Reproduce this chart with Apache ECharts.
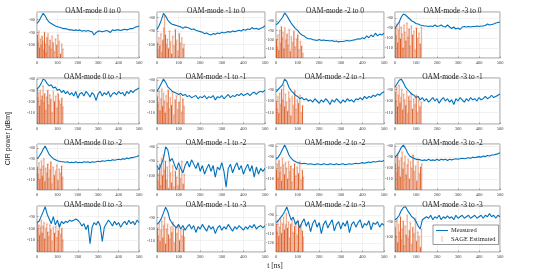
<!DOCTYPE html>
<html><head><meta charset="utf-8">
<script src="https://cdn.jsdelivr.net/npm/echarts@6/dist/echarts.min.js"></script>
<style>html,body{margin:0;padding:0;background:#fff}#c{width:540px;height:270px}</style>
</head><body><div id="c"></div>
<script>
const T = [0,10,20,30,40,50,60,70,80,90,100,110,120,130,140,150,160,170,180,190,200,210,220,230,240,250,260,270,280,290,300,310,320,330,340,350,360,370,380,390,400,410,420,430,440,450,460,470,480,490,500];
const xTicks = [0,100,200,300,400,500];
const srcModes = ['0','-1','-2','-3'];
const dstModes = ['0','-1','-2','-3'];

// measured CIR (dBm), rows = destination mode, cols = source mode
const M00 = [-83,-81,-78,-75,-77,-80,-82,-83,-84,-85,-85.5,-86,-86.5,-87,-87,-87.5,-88,-88,-88.5,-88,-88.5,-88,-89,-88.5,-89,-88.5,-89,-89.5,-92,-90,-89,-89,-89.5,-89,-88.5,-89,-90,-88,-88.5,-88,-88,-88.5,-88,-87.5,-88,-87.5,-87,-87,-86,-85.5,-85];
const M01 = [-89,-86,-82,-77,-79,-82,-84,-85,-85.5,-86,-86.5,-87,-88,-87,-87.5,-88,-89,-88.5,-89.5,-90,-90.5,-91,-92,-91.5,-92.5,-93,-92,-92.5,-91.5,-92,-91,-91.5,-91,-90.5,-91,-90,-90.5,-90,-89.5,-90,-89,-89.5,-88.5,-89,-87.5,-88.5,-88,-89,-88,-87.5,-86];
const M02 = [-84,-82,-79,-76,-71,-74,-78,-82,-85,-88,-90,-93,-95,-96,-98,-99,-99,-100,-100.5,-101,-100,-101,-100.5,-101,-101,-101.5,-101,-102,-101.5,-102.5,-102,-102,-101.5,-101,-101.5,-101,-100.5,-100,-99,-99.5,-98,-99,-96,-98,-95,-97,-93,-96,-94,-95,-93];
const M03 = [-90,-87,-84,-79,-76,-77,-79,-81,-83,-84,-85.5,-86,-87,-87.5,-88,-88,-88.5,-88,-88.5,-87,-88.5,-88,-87,-88.5,-89,-87,-89,-90.5,-89,-91,-90,-91.5,-89,-88.5,-89,-88.5,-89,-88.5,-88.5,-88,-88.5,-88,-88,-87.5,-86,-87,-86.5,-86,-85,-84.5,-84];
const M10 = [-89,-87,-84,-80,-81,-84,-86,-85,-88,-87,-90,-89,-92,-90,-93,-91,-94,-92,-95,-91,-97,-93,-92,-95,-91,-93,-96,-92,-94,-99,-93,-91,-95,-92,-94,-91,-96,-93,-92,-94,-91,-93,-92,-95,-91,-93,-90,-92,-90,-89,-88];
const M11 = [-90,-87,-83,-79,-82,-86,-88,-90,-91,-92,-93,-92,-94,-93,-95,-94,-96,-95,-94,-97,-95,-96,-94,-97,-95,-96,-94,-98,-95,-96,-94,-97,-95,-93,-96,-94,-95,-93,-94,-92,-94,-93,-92,-94,-92,-91,-93,-91,-90,-91,-89];
const M12 = [-92,-90,-88,-86,-81,-83,-88,-91,-93,-95,-96,-98,-97,-99,-98,-100,-99,-101,-98,-100,-102,-99,-101,-98,-100,-103,-99,-101,-98,-100,-102,-99,-101,-98,-100,-99,-101,-98,-99,-97,-99,-96,-98,-96,-97,-95,-96,-94,-95,-93,-92];
const M13 = [-88,-85,-82,-81,-84,-88,-90,-92,-94,-95,-97,-96,-99,-97,-100,-98,-101,-99,-97,-100,-98,-102,-99,-97,-100,-98,-101,-99,-103,-98,-100,-97,-99,-101,-98,-100,-97,-99,-98,-100,-97,-99,-98,-96,-98,-97,-95,-97,-96,-95,-94];
const M20 = [-90,-88,-85,-81,-78,-82,-86,-88,-90,-91,-92,-92.5,-93,-93,-93.5,-93,-94,-93.5,-94,-93,-94,-93.5,-94,-93,-93.5,-93,-94,-93,-93.5,-93,-92.5,-93,-92,-92.5,-92,-91.5,-92,-91,-91.5,-91,-90.5,-91,-90,-90.5,-89.5,-90,-89,-89,-88.5,-88,-87];
const M21 = [-93,-96,-92,-88,-80,-82,-90,-88,-92,-96,-91,-95,-98,-93,-90,-94,-89,-92,-95,-91,-97,-93,-99,-95,-92,-97,-93,-101,-94,-96,-91,-97,-108,-95,-92,-98,-94,-91,-96,-93,-99,-95,-92,-97,-93,-101,-94,-99,-95,-97,-95];
const M22 = [-92,-90,-87,-83,-79,-83,-88,-91,-93,-94,-95,-95.5,-96,-95.5,-96,-96.5,-96,-96.5,-97,-96,-96.5,-97,-96,-96.5,-97,-96,-96.5,-97,-96,-97,-96.5,-96,-97,-96.5,-96,-96.5,-96,-95.5,-96,-95.5,-95,-95.5,-95,-94.5,-95,-94,-94.5,-94,-93.5,-94,-93];
const M23 = [-90,-88,-85,-81,-79,-82,-86,-89,-90,-91,-92,-92,-92.5,-93,-92.5,-93,-92,-93,-92.5,-93,-92,-93,-92,-92.5,-92,-93,-92,-92.5,-92,-91.5,-92,-91.5,-91,-91.5,-91,-90.5,-91,-90,-90.5,-90,-89.5,-90,-89,-89.5,-88.5,-89,-88,-88,-87.5,-87,-86];
const M30 = [-95,-94,-90,-86,-81.5,-88,-92,-96,-90,-97,-93,-99,-94,-96,-94,-95,-93,-94,-93,-92,-93,-95,-98,-96,-101,-97,-113,-99,-95,-97,-94,-98,-111,-99,-96,-93,-95,-98,-94,-97,-95,-99,-96,-94,-97,-93,-96,-94,-97,-93,-95];
const M31 = [-96,-94,-91,-86,-81,-85,-92,-95,-97,-99,-96,-100,-97,-101,-98,-96,-100,-97,-103,-98,-100,-96,-99,-102,-97,-100,-98,-104,-99,-97,-101,-98,-100,-96,-99,-102,-98,-100,-97,-99,-101,-98,-100,-97,-99,-96,-100,-98,-97,-99,-97];
const M32 = [-98,-96,-93,-90,-86,-81,-88,-95,-92,-100,-96,-104,-98,-94,-102,-97,-108,-99,-95,-103,-98,-110,-100,-96,-104,-99,-95,-107,-100,-97,-105,-98,-102,-96,-109,-100,-97,-103,-98,-95,-104,-99,-101,-96,-106,-98,-100,-97,-103,-99,-101];
const M33 = [-89,-88,-86,-83,-81,-80.5,-83,-85,-87,-88,-90,-93,-95,-89,-88,-87,-88,-86,-89,-87,-88,-86,-89,-87,-88,-86.5,-88,-87,-89,-86,-88,-87,-86,-88,-87,-86,-88,-87,-86,-88,-87,-86,-88,-86,-87,-85,-87,-86,-88,-86,-87];

// SAGE estimated path delays (ns) and powers (dBm)
const ST00 = [2,6,9,13,17,21,25,29,33,37,41,45,49,54,59,64,69,74,79,85,91,97,103,109,115,121,127];
const SP00 = [-92,-98,-89,-102,-95,-100,-93,-97,-104,-90,-99,-106,-94,-91,-101,-96,-103,-93,-98,-105,-95,-100,-92,-97,-107,-99,-103];
const ST01 = [1,5,9,13,18,22,27,31,35,39,44,48,53,58,63,68,73,79,85,91,97,103,109,115,121,125];
const SP01 = [-99,-104,-95,-101,-92,-106,-97,-88,-79,-93,-100,-96,-103,-90,-98,-107,-94,-101,-89,-97,-105,-92,-99,-95,-103,-100];
const ST02 = [2,5,9,13,17,21,25,29,33,37,41,46,51,56,61,66,71,77,83,89,95,101,107,113,119,125];
const SP02 = [-100,-108,-95,-112,-90,-104,-86,-98,-92,-110,-87,-101,-94,-106,-89,-113,-97,-103,-91,-108,-99,-95,-111,-102,-107,-115];
const ST03 = [1,5,9,13,17,21,26,30,34,38,43,47,52,57,62,67,72,78,84,90,96,102,108,114,120,126];
const SP03 = [-90,-98,-86,-105,-92,-84,-101,-89,-96,-110,-87,-94,-103,-85,-99,-91,-108,-88,-97,-93,-112,-90,-100,-95,-106,-89];
const ST10 = [1,5,9,13,17,21,25,30,34,38,43,48,53,58,63,68,74,80,86,92,98,104,110,116,122,127];
const SP10 = [-88,-97,-92,-104,-90,-99,-95,-86,-101,-93,-108,-96,-90,-103,-94,-98,-110,-91,-100,-95,-106,-93,-99,-102,-97,-105];
const ST11 = [2,6,10,14,18,22,26,30,34,38,42,47,52,57,62,67,72,78,84,90,96,102,108,114,120,126];
const SP11 = [-95,-102,-90,-108,-97,-88,-104,-92,-99,-110,-94,-101,-89,-106,-96,-103,-91,-112,-98,-94,-107,-100,-93,-109,-97,-104];
const ST12 = [1,5,9,13,17,22,26,31,35,40,44,49,54,59,64,69,75,81,87,93,99,105,111,117,123];
const SP12 = [-100,-107,-96,-111,-93,-103,-90,-99,-86,-105,-94,-101,-109,-92,-98,-113,-96,-104,-91,-107,-99,-102,-95,-110,-104];
const ST13 = [1,4,8,12,16,20,24,28,32,37,41,46,51,56,61,66,71,77,83,89,95,101,107,113,119,125];
const SP13 = [-92,-100,-88,-105,-95,-86,-102,-97,-90,-108,-94,-99,-104,-91,-111,-96,-100,-93,-107,-98,-103,-95,-110,-99,-105,-101];
const ST20 = [2,6,10,14,18,22,26,30,34,39,43,48,53,58,63,68,73,79,85,91,97,103,109,115,121,126];
const SP20 = [-98,-105,-94,-110,-100,-92,-107,-97,-90,-112,-99,-104,-95,-109,-101,-93,-114,-98,-106,-102,-96,-111,-100,-104,-97,-108];
const ST21 = [1,5,9,13,17,21,26,30,35,39,44,48,53,58,63,68,73,79,85,91,97,103,109,115,121,126];
const SP21 = [-95,-104,-99,-92,-107,-88,-100,-86,-96,-90,-103,-94,-109,-89,-98,-105,-93,-108,-97,-101,-107,-95,-102,-90,-106,-99];
const ST22 = [2,6,10,14,18,22,26,30,35,39,44,49,54,59,64,69,74,80,86,92,98,104,110,116,122,127];
const SP22 = [-102,-96,-109,-93,-104,-99,-112,-91,-97,-106,-95,-100,-110,-94,-103,-98,-113,-101,-96,-107,-99,-105,-94,-111,-102,-108];
const ST23 = [1,5,9,13,17,21,25,30,34,38,43,48,53,58,63,68,74,80,86,92,98,104,110,116,122,127];
const SP23 = [-96,-90,-104,-87,-99,-93,-108,-91,-85,-101,-95,-89,-106,-97,-92,-110,-94,-100,-88,-103,-98,-112,-93,-105,-99,-96];
const ST30 = [1,5,9,13,17,21,25,30,34,38,43,48,53,58,63,68,74,80,86,92,98,104,110,116,122,127];
const SP30 = [-95,-101,-97,-106,-99,-93,-104,-98,-95,-109,-100,-96,-103,-107,-97,-101,-111,-99,-104,-98,-108,-102,-96,-105,-100,-110];
const ST31 = [2,6,10,14,18,22,27,31,35,40,44,49,54,59,64,69,74,80,86,92,98,104,110,116,122,127];
const SP31 = [-99,-106,-95,-111,-101,-93,-108,-97,-90,-113,-100,-96,-105,-109,-98,-103,-94,-112,-99,-104,-97,-110,-101,-106,-100,-107];
const ST32 = [1,5,9,13,17,21,26,30,35,39,44,48,53,58,63,68,74,80,86,92,98,104,110,116,122,127];
const SP32 = [-100,-108,-96,-113,-103,-94,-110,-99,-92,-106,-101,-88,-104,-97,-115,-100,-95,-109,-102,-98,-112,-96,-105,-101,-107,-114];
const ST33 = [1,5,9,13,17,21,26,30,34,39,43,48,53,58,63,68,73,79,85,91,97,103,109,115,121,126];
const SP33 = [-94,-100,-89,-104,-92,-97,-87,-102,-95,-90,-106,-93,-99,-86,-101,-96,-91,-105,-94,-98,-88,-103,-97,-100,-107,-95];

// y-axis limits (dBm) per panel
const yMin = [-110,-110,-120,-120, -120,-120,-120,-120, -120,-110,-120,-120, -120,-120,-130,-110];
const yMax = [-74,-76,-70,-74, -79,-78,-80,-80, -76,-78,-78,-78, -81,-80,-80,-80];

const meas = [M00,M01,M02,M03,M10,M11,M12,M13,M20,M21,M22,M23,M30,M31,M32,M33];
const stT = [ST00,ST01,ST02,ST03,ST10,ST11,ST12,ST13,ST20,ST21,ST22,ST23,ST30,ST31,ST32,ST33];
const stP = [SP00,SP01,SP02,SP03,SP10,SP11,SP12,SP13,SP20,SP21,SP22,SP23,SP30,SP31,SP32,SP33];

const chart = echarts.init(document.getElementById('c'));
const FONT = '"Liberation Serif", "DejaVu Serif", serif';
const colLeft = [37, 157, 276, 395];
const colW = [102, 108, 108, 105];
const rowTop = [12, 78, 144, 206];
const rowH = 46;
const BLUE = '#0072BD', ORANGE = '#D95319';

const grids = [], xAxes = [], yAxes = [], series = [], titles = [];
for (let r = 0; r < 4; r++) {
  for (let c = 0; c < 4; c++) {
    const k = r * 4 + c;
    grids.push({left: colLeft[c], top: rowTop[r], width: colW[c], height: rowH, show: true, borderColor: '#555', borderWidth: 0.6, backgroundColor: '#fff'});
    xAxes.push({type: 'value', gridIndex: k, min: xTicks[0], max: xTicks[xTicks.length-1], interval: 100,
      axisLine: {show: false}, axisTick: {show: true, inside: true, length: 1.5, lineStyle: {color: '#555', width: 0.5}},
      axisLabel: {fontSize: 4.5, color: '#444', margin: 2, fontFamily: FONT},
      splitLine: {show: true, lineStyle: {color: '#e4e4e4', width: 0.5}}});
    yAxes.push({type: 'value', gridIndex: k, min: yMin[k], max: yMax[k], interval: 10,
      axisLine: {show: false}, axisTick: {show: true, inside: true, length: 1.5, lineStyle: {color: '#555', width: 0.5}},
      axisLabel: {fontSize: 4.5, color: '#444', margin: 2, showMinLabel: false, showMaxLabel: false, fontFamily: FONT},
      splitLine: {show: true, lineStyle: {color: '#e4e4e4', width: 0.5}}});
    titles.push({text: 'OAM-mode ' + srcModes[c] + ' to ' + dstModes[r], left: colLeft[c] + colW[c] / 2, top: rowTop[r] - 10, textAlign: 'center',
      textStyle: {fontSize: 7.5, fontWeight: 'normal', color: '#222', fontFamily: FONT}});
    const base = yMin[k];
    series.push({name: 'SAGE Estimated', type: 'custom', xAxisIndex: k, yAxisIndex: k, clip: true, z: 2,
      itemStyle: {color: '#eea07a'},
      data: stT[k].map((t, i) => [t, stP[k][i]]),
      renderItem: (params, api) => {
        const p0 = api.coord([api.value(0), base]);
        const p1 = api.coord([api.value(0), api.value(1)]);
        const strong = params.dataIndex % 3 === 0;
        return {type: 'group', children: [
          {type: 'line', shape: {x1: p0[0], y1: p0[1], x2: p1[0], y2: p1[1]}, style: {stroke: ORANGE, lineWidth: strong ? 1 : 1.3, opacity: strong ? 0.95 : 0.45}},
          {type: 'circle', shape: {cx: p1[0], cy: p1[1], r: 0.9}, style: {fill: 'none', stroke: ORANGE, lineWidth: 0.4, opacity: 0.45}}
        ]};
      }});
    series.push({name: 'Measured', type: 'line', xAxisIndex: k, yAxisIndex: k, z: 5, symbol: 'none', showSymbol: false,
      lineStyle: {color: BLUE, width: 1.1}, itemStyle: {color: BLUE},
      data: T.map((t, i) => [t, meas[k][i]])});
  }
}
titles.push({text: 't [ns]', left: 270, top: 257, textAlign: 'center', textStyle: {fontSize: 7.5, fontWeight: 'normal', color: '#222', fontFamily: FONT}});

chart.setOption({
  animation: false,
  title: titles,
  grid: grids, xAxis: xAxes, yAxis: yAxes, series: series,
  legend: {data: [{name: 'Measured', icon: 'path://M0,4.5h14v1.2h-14z'}, {name: 'SAGE Estimated', icon: 'path://M6.5,1h1v9h-1z'}],
    orient: 'vertical', left: 433, top: 225, itemWidth: 12, itemHeight: 6, itemGap: 1.5, padding: [2, 3, 2, 3],
    borderColor: '#333', borderWidth: 0.5, backgroundColor: '#fff', z: 20,
    textStyle: {fontSize: 6.5, color: '#222', fontFamily: FONT, padding: [0,0,0,-2]}},
  graphic: [{type: 'text', left: 5, top: 112, rotation: Math.PI / 2,
    style: {text: 'CIR power [dBm]', fontSize: 7, fill: '#222', font: '7px ' + FONT}}]
});
</script></body></html>
